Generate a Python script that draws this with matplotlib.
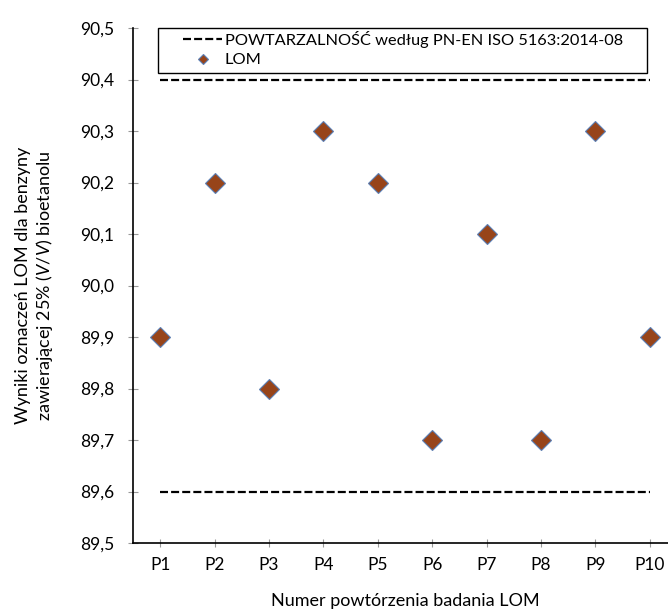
import matplotlib
matplotlib.use("Agg")
import matplotlib.pyplot as plt
from matplotlib.patches import Rectangle
from matplotlib.ticker import FuncFormatter

plt.rcParams['font.family'] = ['Lato', 'DejaVu Sans']
plt.rcParams['mathtext.fontset'] = 'custom'
plt.rcParams['mathtext.rm'] = 'Lato'
plt.rcParams['mathtext.it'] = 'Lato:italic'

# data
categories = ["P1", "P2", "P3", "P4", "P5", "P6", "P7", "P8", "P9", "P10"]
lom_values = [89.9, 90.2, 89.8, 90.3, 90.2, 89.7, 90.1, 89.7, 90.3, 89.9]
upper_limit = 90.4
lower_limit = 89.6

fig = plt.figure(figsize=(6.68, 6.14), dpi=100)
ax = fig.add_axes([0.199, 0.1156, 0.8144, 0.8388])

dash = (0, (3.6, 1.4))
x = list(range(len(categories)))
ax.plot(x, [upper_limit] * len(x), linestyle=dash, color='black', linewidth=1.6,
        label="POWTARZALNOŚĆ według PN-EN ISO 5163:2014-08")
ax.plot(x, [lower_limit] * len(x), linestyle=dash, color='black', linewidth=1.6)
ax.plot(x, lom_values, linestyle='none', marker='D', markersize=10,
        markerfacecolor='#97441a', markeredgecolor='#5b7fb5', markeredgewidth=0.8, label="LOM")

ax.set_xlim(-0.5, len(x) - 0.5)
ax.set_ylim(89.5, 90.5)
ax.set_xticks(x)
ax.set_xticklabels(categories)
ax.set_yticks([89.5 + 0.1 * i for i in range(11)])
ax.yaxis.set_major_formatter(FuncFormatter(lambda v, p: "{:.1f}".format(v).replace(".", ",")))

for side in ['top', 'right']:
    ax.spines[side].set_visible(False)
for side in ['left', 'bottom']:
    ax.spines[side].set_color('black')
    ax.spines[side].set_linewidth(1.2)

ax.tick_params(axis='y', direction='inout', length=7, color='#999999', labelsize=12.5, pad=10)
ax.tick_params(axis='x', direction='inout', length=5.5, color='#999999', labelsize=12.5, pad=7)

ax.set_xlabel("Numer powtórzenia badania LOM", fontsize=13, labelpad=15)
ax.set_ylabel("Wyniki oznaczeń LOM dla benzyny\nzawierającej 25% ($\\it{V/V}$) bioetanolu",
              fontsize=13, labelpad=18)

# legend box drawn separately so the entries can sit inset like the original
ax.add_patch(Rectangle((0.046, 0.9126), 0.899, 0.0874, transform=ax.transAxes,
                       facecolor='white', edgecolor='black', linewidth=1.0,
                       clip_on=False, zorder=4))
leg = ax.legend(loc='upper left', bbox_to_anchor=(0.092, 0.994), frameon=False,
                fontsize=11.8, borderpad=0, borderaxespad=0,
                handlelength=2.4, handletextpad=0.15, labelspacing=0.3,
                markerscale=0.55)
leg.set_zorder(5)

fig.savefig("out.png", dpi=100)
